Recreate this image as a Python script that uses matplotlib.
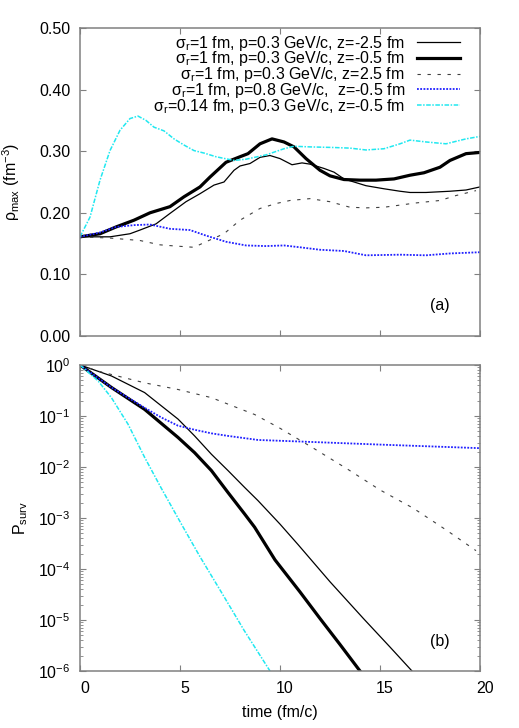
import numpy as np
import matplotlib
matplotlib.use('Agg')
import matplotlib.pyplot as plt
from matplotlib.transforms import ScaledTranslation

plt.rcParams['font.family'] = ['Liberation Sans', 'DejaVu Sans']
plt.rcParams['mathtext.fontset'] = 'custom'
plt.rcParams['mathtext.rm'] = 'Liberation Sans'
plt.rcParams['mathtext.it'] = 'Liberation Sans:italic'
plt.rcParams['mathtext.default'] = 'regular'

labels = ['σ$_{r}$=1 fm, p=0.3 GeV/c, z=-2.5 fm',
          'σ$_{r}$=1 fm, p=0.3 GeV/c, z=-0.5 fm',
          'σ$_{r}$=1 fm, p=0.3 GeV/c, z=2.5 fm',
          'σ$_{r}$=1 fm, p=0.8 GeV/c,  z=-0.5 fm',
          'σ$_{r}$=0.14 fm, p=0.3 GeV/c, z=-0.5 fm']

# panel (a): max density vs time
t_a1 = [0, 1.5, 2.5, 3.0, 3.8, 4.5, 5.3, 6.0, 6.7, 7.2, 7.7, 8.0, 8.5, 9.0, 9.5, 10.0,
        10.6, 11.1, 11.5, 12.2, 12.7, 13.2, 13.7, 14.3, 15.2, 16.0, 16.5, 17.3, 18.5, 19.3, 20.0]
rho_a1 = [.161, .161, .166, .172, .182, .199, .218, .231, .245, .250, .269, .276, .280, .290, .293, .288,
          .278, .281, .279, .272, .266, .255, .250, .244, .239, .235, .233, .233, .235, .237, .242]

t_a2 = [0, 1.0, 1.8, 2.7, 3.5, 4.5, 5.2, 6.0, 6.5, 7.3, 8.0, 8.4, 9.0, 9.6, 10.2, 10.7,
        11.3, 12.0, 12.5, 13.2, 14.0, 14.8, 15.7, 16.5, 17.2, 18.0, 18.5, 19.3, 20.0]
rho_a2 = [.161, .166, .177, .188, .200, .210, .226, .242, .258, .282, .291, .296, .312, .320, .315, .307,
          .288, .269, .260, .254, .253, .253, .255, .261, .265, .274, .285, .296, .298]

t_a3 = [0, 1.5, 3.0, 4.0, 4.8, 5.7, 6.3, 7.2, 8.0, 9.0, 9.8, 10.5, 11.5, 12.5, 13.5, 14.3,
        15.2, 16.8, 18.0, 18.8, 19.8]
rho_a3 = [.161, .159, .155, .148, .146, .144, .153, .166, .188, .207, .215, .220, .223, .218, .209, .208,
          .209, .216, .220, .228, .236]

t_a4 = [0, 1.0, 1.8, 2.7, 3.5, 4.5, 5.5, 6.3, 7.3, 8.3, 9.3, 10.2, 11.0, 12.0, 13.2, 14.3,
        16.0, 17.3, 18.5, 20.0]
rho_a4 = [.161, .168, .177, .180, .181, .174, .172, .163, .153, .147, .146, .147, .144, .140, .138, .131,
          .132, .131, .134, .136]

t_a5 = [0, .5, 1, 1.5, 2, 2.5, 2.9, 3.3, 3.7, 4.2, 4.7, 5.2, 5.7, 6.2, 6.8, 7.7, 8.3, 9.3,
        10.2, 10.7, 11.5, 12.7, 13.5, 14.3, 15.2, 16, 16.5, 17.3, 18.3, 19.3, 20]
rho_a5 = [.161, .193, .253, .301, .334, .353, .357, .350, .339, .333, .320, .310, .301, .297, .291, .285,
          .287, .294, .304, .308, .307, .306, .305, .302, .304, .312, .318, .315, .312, .320, .324]

# panel (b): survival probability vs time
t_b1 = [0, 1.57, 3.23, 4.9, 5.73, 6.57, 7.4, 8.23, 8.9, 10.0, 10.9, 12.5, 14.17, 15.5, 16.6]
p_b1 = [1.0, 0.610, 0.288, 0.0871, 0.0407, 0.0178, 8.51e-3, 3.98e-3, 2.19e-3, 7.59e-4, 3.02e-4,
        5.62e-5, 1.07e-5, 2.95e-6, 1.0e-6]

t_b2 = [0, 1.57, 3.23, 4.9, 5.73, 6.57, 7.4, 8.23, 8.73, 9.75, 11.0, 12.0, 13.0, 14.0]
p_b2 = [1.0, 0.363, 0.135, 0.0380, 0.0191, 8.51e-3, 3.16e-3, 1.20e-3, 6.61e-4, 1.51e-4, 3.55e-5,
        1.07e-5, 3.31e-6, 1.0e-6]

t_b3 = [0, 0.9, 3.23, 4.9, 6.57, 8.73, 10.0, 11.67, 13.33, 15.0, 16.67, 18.33, 19.8]
p_b3 = [1.0, 0.759, 0.447, 0.331, 0.229, 0.107, 0.0575, 0.0234, 9.33e-3, 3.55e-3, 1.55e-3, 5.75e-4, 2.29e-4]

t_b4 = [0, 1.57, 3.23, 4.07, 4.9, 5.73, 6.57, 7.4, 8.9, 11.0, 15.0, 20.0]
p_b4 = [1.0, 0.363, 0.145, 0.0933, 0.0646, 0.0537, 0.0457, 0.0407, 0.0339, 0.0316, 0.0275, 0.0234]

t_b5 = [0, 0.9, 1.57, 2.4, 3.23, 4.07, 5.07, 6.0, 7.0, 8.2, 9.5]
p_b5 = [1.0, 0.490, 0.229, 0.0692, 0.0155, 3.80e-3, 7.59e-4, 1.74e-4, 3.89e-5, 6.31e-6, 1.0e-6]

styles = [dict(color='black', lw=0.9),
          dict(color='black', lw=2.3),
          dict(color='#404040', lw=0.8, dashes=(3, 6)),
          dict(color='#2020ff', lw=1.3, dashes=(1, 0.8)),
          dict(color='#20e8f0', lw=1.1, dashes=(3, 1, 1, 1))]

fig = plt.figure(figsize=(5.19, 7.28), dpi=100)
ax1 = fig.add_axes([80/519, 1-336/728, 400/519, 308/728])
ax2 = fig.add_axes([80/519, 1-671/728, 400/519, 306/728])

for t, y, lab, st in zip([t_a1, t_a2, t_a3, t_a4, t_a5], [rho_a1, rho_a2, rho_a3, rho_a4, rho_a5], labels, styles):
    ax1.plot(t, y, label=lab, **st)
for t, y, st in zip([t_b1, t_b2, t_b3, t_b4, t_b5], [p_b1, p_b2, p_b3, p_b4, p_b5], styles):
    ax2.plot(t, y, **st)

for ax in (ax1, ax2):
    ax.set_xlim(0, 20)
    ax.set_xticks([0, 5, 10, 15, 20])
    for s in ax.spines.values():
        s.set_color('#808080')
        s.set_linewidth(1.1)
    ax.tick_params(which='major', direction='in', top=True, right=True, length=4.5,
                   color='#808080', labelsize=11.5, pad=7)
    ax.tick_params(which='minor', direction='in', top=True, right=True, length=2.2, color='#808080')

ax1.set_ylim(0, 0.5)
ax1.set_yticks([0, 0.1, 0.2, 0.3, 0.4, 0.5])
ax1.set_yticklabels(['%.2f' % v for v in [0, 0.1, 0.2, 0.3, 0.4, 0.5]])
ax1.tick_params(labelbottom=False)
ax1.set_ylabel('ρ$_{max}$ (fm$^{-3}$)', fontsize=11.5)
ax1.yaxis.set_label_coords(-0.145, 0.5)
ax1.text(0.9, 0.1, '(a)', transform=ax1.transAxes, ha='center', va='center', fontsize=11.5)

# gnuplot-style key: labels right-aligned, line sample on the right
leg = ax1.legend(loc='upper right', bbox_to_anchor=(0.95, 0.982), frameon=False, markerfirst=False,
                 handlelength=2.7, handletextpad=0.75, labelspacing=-0.2, borderpad=0,
                 borderaxespad=0, fontsize=11.5)
for col in leg._legend_handle_box.get_children():
    col.align = 'right'

ax2.set_yscale('log')
ax2.set_ylim(1e-6, 1)
ax2.set_yticks([1e-6, 1e-5, 1e-4, 1e-3, 1e-2, 1e-1, 1])
ax2.set_ylabel('P$_{surv}$', fontsize=11.5)
ax2.yaxis.set_label_coords(-0.125, 0.5)
ax2.set_xlabel('time (fm/c)', fontsize=11.5)
ax2.xaxis.set_label_coords(0.5, -0.112)
ax2.text(0.9, 0.096, '(b)', transform=ax2.transAxes, ha='center', va='center', fontsize=11.5)

offset = ScaledTranslation(5/100, 0, fig.dpi_scale_trans)
for lab in ax2.get_xticklabels():
    lab.set_transform(lab.get_transform() + offset)

fig.savefig('out.png', dpi=100)
